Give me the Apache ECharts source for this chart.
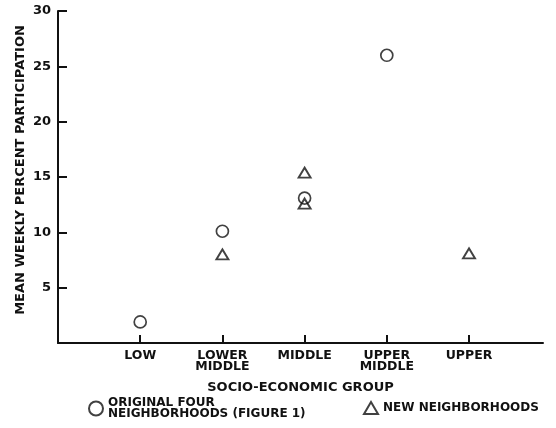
<!DOCTYPE html>
<html>
<head>
<meta charset="utf-8">
<script src="https://cdn.jsdelivr.net/npm/echarts@6/dist/echarts.min.js"></script>
<style>
  html, body { margin: 0; padding: 0; background: #fff; }
  #chart { width: 556px; height: 428px; }
</style>
</head>
<body>
<div id="chart"></div>
<script>
// Socio-economic groups along the horizontal axis
var groups = ['LOW', 'LOWER\nMIDDLE', 'MIDDLE', 'UPPER\nMIDDLE', 'UPPER'];
var yTicks = [5, 10, 15, 20, 25, 30];

// [group index, mean weekly percent participation]
var originalFour = [[0, 1.9], [1, 10.1], [2, 13.1], [3, 26.0]];
var newNeighborhoods = [[1, 8.0], [2, 15.4], [2, 12.6], [4, 8.1]];

var originalName = 'ORIGINAL FOUR\nNEIGHBORHOODS (FIGURE 1)';
var newName = 'NEW NEIGHBORHOODS';

var font = '"DejaVu Sans", Verdana, sans-serif';
var ink = '#111';

var chart = echarts.init(document.getElementById('chart'));
chart.setOption({
  animation: false,
  backgroundColor: '#fff',
  grid: { left: 58, right: 13, top: 11, bottom: 85, containLabel: false },
  xAxis: {
    type: 'value',
    min: -1,
    max: 4.9,
    interval: 1,
    name: 'SOCIO-ECONOMIC GROUP',
    nameLocation: 'middle',
    nameGap: 38,
    nameTextStyle: { color: ink, fontFamily: font, fontWeight: 'bold', fontSize: 13 },
    splitLine: { show: false },
    axisLine: { onZero: false, lineStyle: { color: ink, width: 2 } },
    axisTick: { inside: true, length: 8, lineStyle: { color: ink, width: 2 } },
    axisLabel: {
      color: ink, fontFamily: font, fontWeight: 'bold', fontSize: 12.5, lineHeight: 11,
      margin: 7,
      showMinLabel: true, showMaxLabel: false,
      formatter: function (v) {
        var i = Math.round(v);
        return (i >= 0 && i < groups.length) ? groups[i] : '';
      }
    }
  },
  yAxis: {
    type: 'value',
    min: 0,
    max: 30,
    interval: 5,
    name: 'MEAN WEEKLY PERCENT PARTICIPATION',
    nameLocation: 'middle',
    nameGap: 31,
    nameMoveOverlap: false,
    nameTextStyle: { color: ink, fontFamily: font, fontWeight: 'bold', fontSize: 13, padding: [0, 0, 0, 14] },
    splitLine: { show: false },
    axisLine: { show: true, onZero: false, lineStyle: { color: ink, width: 2 } },
    axisTick: { inside: true, length: 9, lineStyle: { color: ink, width: 2 } },
    axisLabel: {
      color: ink, fontFamily: font, fontWeight: 'bold', fontSize: 13, margin: 7,
      formatter: function (v) { return yTicks.indexOf(v) >= 0 ? String(v) : ''; }
    }
  },
  legend: [
    {
      data: [originalName],
      left: 88, top: 397, padding: 0,
      itemWidth: 14, itemHeight: 14,
      textStyle: { color: ink, fontFamily: font, fontWeight: 'bold', fontSize: 12, lineHeight: 11 }
    },
    {
      data: [newName],
      left: 363, top: 401, padding: 0,
      itemWidth: 14, itemHeight: 12,
      textStyle: { color: ink, fontFamily: font, fontWeight: 'bold', fontSize: 12 }
    }
  ],
  series: [
    {
      name: originalName,
      type: 'scatter',
      symbol: 'circle',
      symbolSize: 12,
      itemStyle: { color: '#fff', borderColor: ink, borderWidth: 1.7 },
      data: originalFour,
      z: 2
    },
    {
      name: newName,
      type: 'scatter',
      symbol: 'triangle',
      symbolSize: [12, 10],
      itemStyle: { color: 'rgba(255,255,255,0)', borderColor: ink, borderWidth: 1.9 },
      data: newNeighborhoods,
      z: 3
    }
  ]
});
</script>
</body>
</html>
